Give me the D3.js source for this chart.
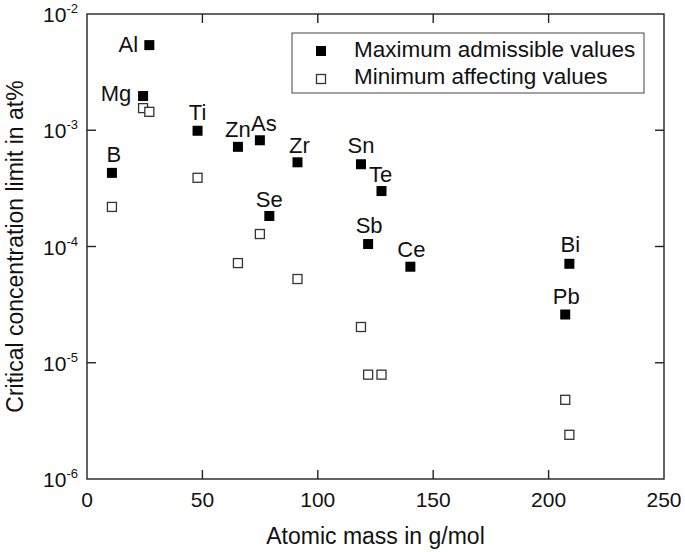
<!DOCTYPE html>
<html lang="en">
<head>
<meta charset="utf-8">
<title>Critical concentration limit</title>
<script src="https://cdn.jsdelivr.net/npm/d3@7"></script>
<style>
  body { margin: 0; background: #fff; }
  text { font-family: "Liberation Sans", Arial, sans-serif; fill: #111; }
</style>
</head>
<body>
<script>
// element data
var elements   = ["B", "Mg", "Al", "Ti", "Zn", "As", "Se", "Zr", "Sn", "Sb", "Te", "Ce", "Pb", "Bi"];
var atomicMass = [10.8, 24.3, 27.0, 47.9, 65.4, 74.9, 79.0, 91.2, 118.7, 121.8, 127.6, 140.1, 207.2, 209.0];
var maxValues  = [4.3e-4, 1.97e-3, 5.4e-3, 9.9e-4, 7.2e-4, 8.2e-4, 1.83e-4, 5.3e-4, 5.1e-4, 1.05e-4, 3.0e-4, 6.7e-5, 2.6e-5, 7.1e-5];
var minValues  = [2.19e-4, 1.55e-3, 1.44e-3, 3.9e-4, 7.2e-5, 1.28e-4, null, 5.25e-5, 2.03e-5, 7.9e-6, 7.9e-6, null, 4.8e-6, 2.4e-6];

var xTicks = [0, 50, 100, 150, 200, 250];
var yTicks = [-6, -5, -4, -3, -2];
var legendLabels = ["Maximum admissible values", "Minimum affecting values"];

var w = 685, h = 552;
var margin = {left: 87, right: 21, top: 14, bottom: 73};

var svg = d3.select("body").append("svg")
    .attr("width", w)
    .attr("height", h);

var xScale = d3.scaleLinear()
    .domain([0, 250])
    .range([margin.left, w - margin.right]);

var yScale = d3.scaleLog()
    .domain([1e-6, 1e-2])
    .range([h - margin.bottom, margin.top]);

var x0 = xScale.range()[0], x1 = xScale.range()[1];
var y0 = yScale.range()[0], y1 = yScale.range()[1];

// frame
svg.append("rect")
    .attr("x", x0).attr("y", y1)
    .attr("width", x1 - x0).attr("height", y0 - y1)
    .attr("fill", "none").attr("stroke", "#222").attr("stroke-width", 1.4);

// inward ticks on all sides
var tickLen = 9;
var inner = xTicks.slice(1, -1);
svg.selectAll(".xt").data(inner).enter().append("line")
    .attr("x1", d => xScale(d)).attr("x2", d => xScale(d))
    .attr("y1", y0).attr("y2", y0 - tickLen)
    .attr("stroke", "#222").attr("stroke-width", 1.4);
svg.selectAll(".xtt").data(inner).enter().append("line")
    .attr("x1", d => xScale(d)).attr("x2", d => xScale(d))
    .attr("y1", y1).attr("y2", y1 + tickLen)
    .attr("stroke", "#222").attr("stroke-width", 1.4);

var yInner = yTicks.slice(1, -1);
svg.selectAll(".yt").data(yInner).enter().append("line")
    .attr("x1", x0).attr("x2", x0 + tickLen)
    .attr("y1", d => yScale(Math.pow(10, d))).attr("y2", d => yScale(Math.pow(10, d)))
    .attr("stroke", "#222").attr("stroke-width", 1.4);
svg.selectAll(".ytr").data(yInner).enter().append("line")
    .attr("x1", x1).attr("x2", x1 - tickLen)
    .attr("y1", d => yScale(Math.pow(10, d))).attr("y2", d => yScale(Math.pow(10, d)))
    .attr("stroke", "#222").attr("stroke-width", 1.4);

// x tick labels
svg.selectAll(".xl").data(xTicks).enter().append("text")
    .attr("x", d => xScale(d))
    .attr("y", y0 + 28)
    .attr("text-anchor", "middle")
    .style("font-size", "21px")
    .text(d => d);

// y tick labels with superscript
var yl = svg.selectAll(".yl").data(yTicks).enter().append("text")
    .attr("x", x0 - 9)
    .attr("y", d => yScale(Math.pow(10, d)) + 8)
    .attr("text-anchor", "end")
    .style("font-size", "21px");
yl.append("tspan").text("10");
yl.append("tspan").attr("dy", -9).style("font-size", "13px").text(d => d);

// axis titles
svg.append("text")
    .attr("x", (x0 + x1) / 2)
    .attr("y", 544)
    .attr("text-anchor", "middle")
    .style("font-size", "23px")
    .text("Atomic mass in g/mol");

svg.append("text")
    .attr("transform", "translate(23," + ((y0 + y1) / 2) + ") rotate(-90)")
    .attr("text-anchor", "middle")
    .style("font-size", "23px")
    .text("Critical concentration limit in at%");

// points
var rows = elements.map(function(el, i) {
    return {name: el, mass: atomicMass[i], max: maxValues[i], min: minValues[i]};
});
var sz = 10;

svg.selectAll(".minp").data(rows.filter(d => d.min != null)).enter().append("rect")
    .attr("x", d => xScale(d.mass) - sz / 2 + 0.5)
    .attr("y", d => yScale(d.min) - sz / 2 + 0.5)
    .attr("width", sz - 1).attr("height", sz - 1)
    .attr("fill", "#fff").attr("stroke", "#333").attr("stroke-width", 1.3);

svg.selectAll(".maxp").data(rows).enter().append("rect")
    .attr("x", d => xScale(d.mass) - sz / 2)
    .attr("y", d => yScale(d.max) - sz / 2)
    .attr("width", sz).attr("height", sz)
    .attr("fill", "#000");

// element labels (offsets from the filled marker)
var labelOffset = {
    B: [2, -11], Mg: [-27, 5], Al: [-21, 7], Ti: [0, -11], Zn: [0, -10], As: [4, -9],
    Se: [0, -9], Zr: [2, -9], Sn: [0, -11], Sb: [1, -11], Te: [-1, -9], Ce: [1, -10],
    Pb: [1, -11], Bi: [1, -12]
};
svg.selectAll(".lab").data(rows).enter().append("text")
    .attr("x", d => xScale(d.mass) + labelOffset[d.name][0])
    .attr("y", d => yScale(d.max) + labelOffset[d.name][1])
    .attr("text-anchor", "middle")
    .style("font-size", "22px")
    .text(d => d.name);

// legend
var lg = svg.append("g");
lg.append("rect")
    .attr("x", 292).attr("y", 33)
    .attr("width", 352).attr("height", 60)
    .attr("fill", "#fff").attr("stroke", "#444").attr("stroke-width", 1);
lg.append("rect")
    .attr("x", 316).attr("y", 46).attr("width", sz).attr("height", sz)
    .attr("fill", "#000");
lg.append("rect")
    .attr("x", 316.5).attr("y", 74.5).attr("width", sz - 1).attr("height", sz - 1)
    .attr("fill", "#fff").attr("stroke", "#333").attr("stroke-width", 1.3);
lg.selectAll(".lt").data(legendLabels).enter().append("text")
    .attr("x", 354)
    .attr("y", (d, i) => 57 + i * 27)
    .style("font-size", "22.5px")
    .text(d => d);
</script>
</body>
</html>
